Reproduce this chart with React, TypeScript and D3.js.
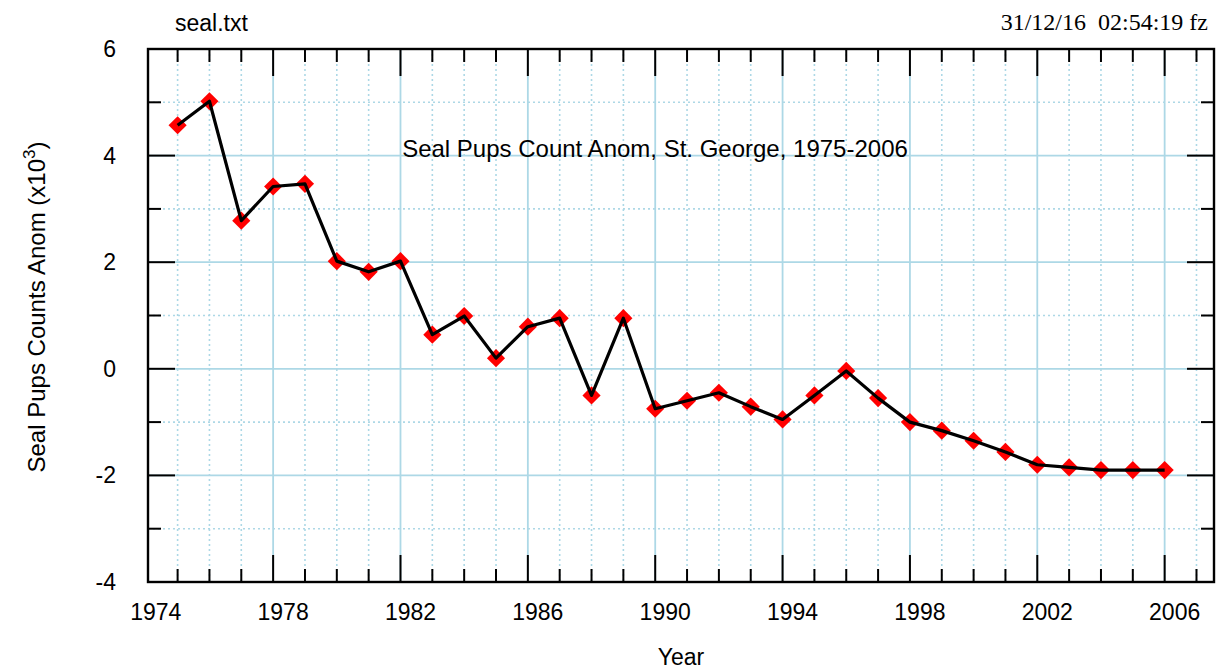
import { useEffect, useRef } from 'react'
import * as d3 from 'd3'

const years = [
    1975, 1976, 1977, 1978, 1979, 1980, 1981, 1982, 1983, 1984, 1985, 1986, 1987, 1988, 1989, 1990,
    1991, 1992, 1993, 1994, 1995, 1996, 1997, 1998, 1999, 2000, 2001, 2002, 2003, 2004, 2005, 2006
]
const anomalies = [
    4.57, 5.02, 2.78, 3.42, 3.47, 2.02, 1.82, 2.02, 0.64, 0.99, 0.2, 0.79, 0.95, -0.5, 0.95, -0.75,
    -0.6, -0.45, -0.71, -0.95, -0.5, -0.04, -0.55, -1.0, -1.16, -1.35, -1.56, -1.8, -1.85, -1.9, -1.9, -1.9
]
const xTickYears = [1975, 1976, 1977, 1978, 1979, 1980, 1981, 1982, 1983, 1984, 1985, 1986, 1987, 1988, 1989, 1990,
    1991, 1992, 1993, 1994, 1995, 1996, 1997, 1998, 1999, 2000, 2001, 2002, 2003, 2004, 2005, 2006, 2007]
const xLabelYears = [1974, 1978, 1982, 1986, 1990, 1994, 1998, 2002, 2006]
const yTicks = [-4, -3, -2, -1, 0, 1, 2, 3, 4, 5, 6]
const yLabels = [-4, -2, 0, 2, 4, 6]

const W = 1217
const H = 669
const SANS = '"Liberation Sans", Arial, sans-serif'

export default function App() {
    const svgRef = useRef<SVGSVGElement>(null)

    useEffect(() => {
        if (!svgRef.current) return
        document.body.style.margin = '0'

        const svg = d3.select(svgRef.current)
        svg.selectAll('*').remove()

        const left = 148, right = 1214, top = 49, bottom = 582
        const x = d3.scaleLinear().domain([1974.07, 2007.55]).range([left, right])
        const y = d3.scaleLinear().domain([-4, 6]).range([bottom, top])
        const isMajorX = (yr: number) => (yr - 1974) % 4 === 0
        const isMajorY = (v: number) => v % 2 === 0
        const grid = '#add8e6'

        svg.append('rect').attr('width', W).attr('height', H).attr('fill', 'white')

        // grid
        const g = svg.append('g')
        g.selectAll('.vgrid')
            .data(xTickYears.filter(d => x(d) > left && x(d) < right))
            .enter().append('line')
            .attr('x1', d => x(d)).attr('x2', d => x(d))
            .attr('y1', top).attr('y2', bottom)
            .attr('stroke', grid)
            .attr('stroke-width', d => isMajorX(d) ? 1.8 : 1.6)
            .attr('stroke-dasharray', d => isMajorX(d) ? null : '2,3')
        g.selectAll('.hgrid')
            .data(yTicks.filter(d => d > -4 && d < 6))
            .enter().append('line')
            .attr('x1', left).attr('x2', right)
            .attr('y1', d => y(d)).attr('y2', d => y(d))
            .attr('stroke', grid)
            .attr('stroke-width', d => isMajorY(d) ? 1.8 : 1.6)
            .attr('stroke-dasharray', d => isMajorY(d) ? null : '2,3')

        // ticks on all four sides
        const tk = svg.append('g').attr('stroke', 'black').attr('stroke-width', 2)
        const xt = xTickYears.filter(d => x(d) > left && x(d) < right)
        xt.forEach(d => {
            const len = isMajorX(d) ? 27 : 13
            tk.append('line').attr('x1', x(d)).attr('x2', x(d)).attr('y1', bottom).attr('y2', bottom - len)
            tk.append('line').attr('x1', x(d)).attr('x2', x(d)).attr('y1', top).attr('y2', top + len)
        })
        yTicks.filter(d => d > -4 && d < 6).forEach(d => {
            const len = isMajorY(d) ? 27 : 13
            tk.append('line').attr('x1', left).attr('x2', left + len).attr('y1', y(d)).attr('y2', y(d))
            tk.append('line').attr('x1', right).attr('x2', right - len).attr('y1', y(d)).attr('y2', y(d))
        })

        // frame
        svg.append('rect')
            .attr('x', left).attr('y', top)
            .attr('width', right - left).attr('height', bottom - top)
            .attr('fill', 'none').attr('stroke', 'black').attr('stroke-width', 2.4)

        // tick labels
        svg.append('g').selectAll('text')
            .data(xLabelYears)
            .enter().append('text')
            .attr('x', d => x(d) + 10)
            .attr('y', 620)
            .attr('text-anchor', 'middle')
            .style('font-family', SANS).style('font-size', '23px')
            .text(d => String(d))
        svg.append('g').selectAll('text')
            .data(yLabels)
            .enter().append('text')
            .attr('x', 116)
            .attr('y', d => y(d) + 8)
            .attr('text-anchor', 'end')
            .style('font-family', SANS).style('font-size', '23px')
            .text(d => String(d))

        // markers then line
        const pts = years.map((yr, i) => [x(yr), y(anomalies[i])] as [number, number])
        const diamond = d3.symbol().type(d3.symbolSquare).size(165)
        svg.append('g').selectAll('path')
            .data(pts)
            .enter().append('path')
            .attr('d', diamond)
            .attr('transform', d => `translate(${d[0]},${d[1]}) rotate(45)`)
            .attr('fill', '#ff0000')
        svg.append('path')
            .datum(pts)
            .attr('d', d3.line())
            .attr('fill', 'none')
            .attr('stroke', 'black')
            .attr('stroke-width', 3.2)
            .attr('stroke-linejoin', 'round')

        // texts
        svg.append('text')
            .attr('x', 655).attr('y', 157)
            .attr('text-anchor', 'middle')
            .style('font-family', SANS).style('font-size', '24px')
            .text('Seal Pups Count Anom, St. George, 1975-2006')
        svg.append('text')
            .attr('x', 175).attr('y', 31)
            .style('font-family', SANS).style('font-size', '23px')
            .text('seal.txt')
        svg.append('text')
            .attr('x', 1208).attr('y', 30)
            .attr('text-anchor', 'end')
            .style('font-family', '"Liberation Serif", "Times New Roman", serif')
            .style('font-size', '24px')
            .style('white-space', 'pre')
            .text('31/12/16  02:54:19 fz')
        svg.append('text')
            .attr('x', 681).attr('y', 665)
            .attr('text-anchor', 'middle')
            .style('font-family', SANS).style('font-size', '23px')
            .text('Year')
        const yl = svg.append('text')
            .attr('transform', 'translate(45,307) rotate(-90)')
            .attr('text-anchor', 'middle')
            .style('font-family', SANS).style('font-size', '24px')
        yl.append('tspan').text('Seal Pups Counts Anom (x10')
        yl.append('tspan').attr('dy', -10).style('font-size', '17px').text('3')
        yl.append('tspan').attr('dy', 10).text(')')
    }, [])

    return (
        <div style={{ position: 'absolute', left: 0, top: 0 }}>
            <svg ref={svgRef} width={W} height={H} style={{ display: 'block' }}></svg>
        </div>
    )
}
